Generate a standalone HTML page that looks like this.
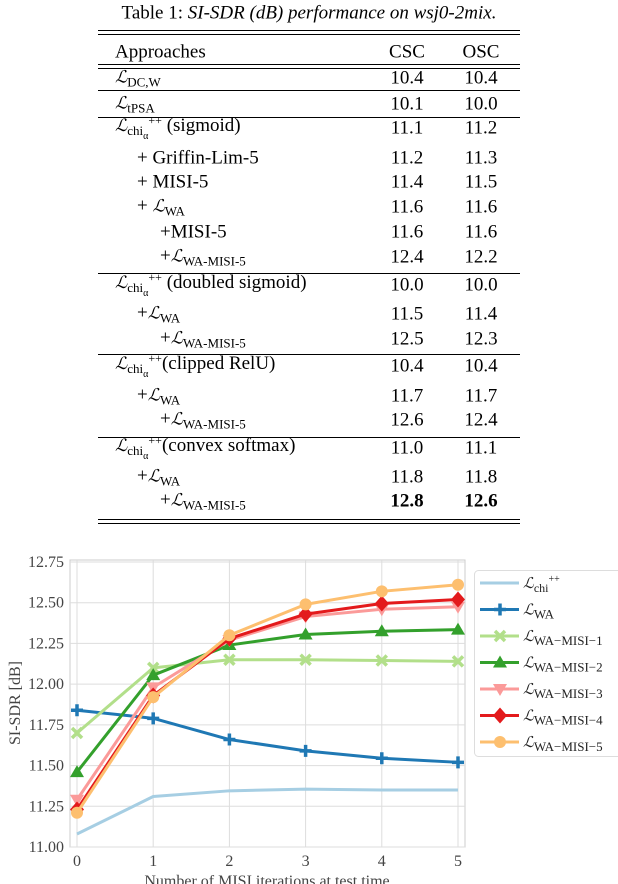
<!DOCTYPE html>
<html><head><meta charset="utf-8"><style>
body{margin:0;width:618px;height:884px;background:#fff;position:relative;overflow:hidden;font-family:"Liberation Serif",serif;color:#000}
.t{position:absolute;font-size:19px;line-height:1;white-space:nowrap;transform:translateY(-50%)}
.n{position:absolute;font-size:19px;line-height:1;white-space:nowrap;transform:translate(-50%,-50%)}
.r{position:absolute;left:98px;width:422px;height:1px;background:#000}
sub{font-size:13px;vertical-align:-4px}
i.L{font-style:italic;font-family:"DejaVu Serif",serif;font-size:17px}
</style></head><body>
<div class="n" style="left:309px;top:13px">Table 1: <i>SI-SDR (dB) performance on wsj0-2mix.</i></div>
<div class="r" style="top:30px"></div>
<div class="r" style="top:34px"></div>
<div class="t" style="left:115px;top:52px">Approaches</div>
<div class="n" style="left:407px;top:52px">CSC</div>
<div class="n" style="left:481px;top:52px">OSC</div>
<div class="r" style="top:64px"></div>
<div class="r" style="top:68px"></div>
<div id="rows"></div>
<div class="r" style="top:519px"></div>
<div class="r" style="top:523px"></div>
<svg id="chart" width="618" height="884" style="position:absolute;left:0;top:0"></svg>
<script>
const tableRows=[
['<i class="L">ℒ</i><sub>DC,W</sub>',115,78,'10.4','10.4'],
['<i class="L">ℒ</i><sub>tPSA</sub>',115,104,'10.1','10.0'],
['<i class="L">ℒ</i><sub>chi<sub style="font-size:10px">α</sub></sub><sup style="font-size:12px">++</sup> (sigmoid)',115,128,'11.1','11.2'],
['+ Griffin-Lim-5',137,158,'11.2','11.3'],
['+ MISI-5',137,182,'11.4','11.5'],
['+ <i class="L">ℒ</i><sub>WA</sub>',137,207,'11.6','11.6'],
['+MISI-5',160,232,'11.6','11.6'],
['+<i class="L">ℒ</i><sub>WA-MISI-5</sub>',160,257,'12.4','12.2'],
['<i class="L">ℒ</i><sub>chi<sub style="font-size:10px">α</sub></sub><sup style="font-size:12px">++</sup> (doubled sigmoid)',115,285,'10.0','10.0'],
['+<i class="L">ℒ</i><sub>WA</sub>',137,314,'11.5','11.4'],
['+<i class="L">ℒ</i><sub>WA-MISI-5</sub>',160,339,'12.5','12.3'],
['<i class="L">ℒ</i><sub>chi<sub style="font-size:10px">α</sub></sub><sup style="font-size:12px">++</sup>(clipped RelU)',115,366,'10.4','10.4'],
['+<i class="L">ℒ</i><sub>WA</sub>',137,396,'11.7','11.7'],
['+<i class="L">ℒ</i><sub>WA-MISI-5</sub>',160,420,'12.6','12.4'],
['<i class="L">ℒ</i><sub>chi<sub style="font-size:10px">α</sub></sub><sup style="font-size:12px">++</sup>(convex softmax)',115,448,'11.0','11.1'],
['+<i class="L">ℒ</i><sub>WA</sub>',137,477,'11.8','11.8'],
['+<i class="L">ℒ</i><sub>WA-MISI-5</sub>',160,501,'<b>12.8</b>','<b>12.6</b>']];
const ruleYs=[90,117,273,354,437];
const rows=document.getElementById('rows');
tableRows.forEach((r,i)=>{
 const a=document.createElement('div');a.className='t';a.style.left=r[1]+'px';a.style.top=r[2]+'px';a.innerHTML=r[0];
 
 
 rows.appendChild(a);
 [[r[3],407,'csc-value'],[r[4],481,'osc-value']].forEach(c=>{
  const d=document.createElement('div');d.className='n';d.style.left=c[1]+'px';d.style.top=r[2]+'px';d.innerHTML=c[0];
  
  
  rows.appendChild(d);});
});
ruleYs.forEach(y=>{const d=document.createElement('div');d.className='r';d.style.top=y+'px';
 
 
 rows.appendChild(d);});

const xCats=[0,1,2,3,4,5];
const yTicks=[11.00,11.25,11.50,11.75,12.00,12.25,12.50,12.75];
const sChi=[11.08,11.31,11.345,11.355,11.35,11.35];
const sWA=[11.84,11.79,11.66,11.59,11.545,11.52];
const sM1=[11.70,12.10,12.15,12.15,12.145,12.14];
const sM2=[11.46,12.055,12.24,12.305,12.325,12.335];
const sM3=[11.29,11.98,12.27,12.415,12.46,12.475];
const sM4=[11.23,11.93,12.28,12.43,12.495,12.52];
const sM5=[11.21,11.92,12.30,12.49,12.57,12.61];
const series=[
 {d:sChi,c:'#a6cee3',m:'none',n:'chi',lab:'chi'},
 {d:sWA,c:'#1f78b4',m:'plus',n:'wa',lab:'WA'},
 {d:sM1,c:'#b2df8a',m:'x',n:'wa-misi-1',lab:'WA−MISI−1'},
 {d:sM2,c:'#33a02c',m:'tri',n:'wa-misi-2',lab:'WA−MISI−2'},
 {d:sM3,c:'#fb9a99',m:'tridown',n:'wa-misi-3',lab:'WA−MISI−3'},
 {d:sM4,c:'#e31a1c',m:'diamond',n:'wa-misi-4',lab:'WA−MISI−4'},
 {d:sM5,c:'#fdbf6f',m:'circle',n:'wa-misi-5',lab:'WA−MISI−5'}];
const L=70,R=465,T=560,B=847;
const xs=v=>77+(v-0)*(458-77)/5;
const ys=v=>847-(v-11)*(847-562)/1.75;
const svg=document.getElementById('chart');const NS='http://www.w3.org/2000/svg';
function el(t,a,p){const e=document.createElementNS(NS,t);for(const k in a)e.setAttribute(k,a[k]);(p||svg).appendChild(e);return e;}
el('rect',{x:L,y:T,width:R-L,height:B-T,fill:'#fff',stroke:'#ccc','stroke-width':1});
yTicks.forEach(v=>{
 const g=el('line',{x1:L,x2:R,y1:ys(v),y2:ys(v),stroke:'#ddd','stroke-width':1});
 
 
 const t=el('text',{x:64,y:ys(v)+5,'text-anchor':'end','font-size':16,fill:'#444','font-family':'Liberation Serif, serif'});t.textContent=v.toFixed(2);
 
 
});
xCats.forEach(v=>{
 const g=el('line',{x1:xs(v),x2:xs(v),y1:T,y2:B,stroke:'#ddd','stroke-width':1});
 
 
 const t=el('text',{x:xs(v),y:866,'text-anchor':'middle','font-size':16,fill:'#444','font-family':'Liberation Serif, serif'});t.textContent=v;
 
 
});
const xl=el('text',{x:267,y:886,'text-anchor':'middle','font-size':16,fill:'#444','font-family':'Liberation Serif, serif'});xl.textContent='Number of MISI iterations at test time';


const yl=el('text',{x:0,y:0,'text-anchor':'middle','font-size':16,fill:'#444','font-family':'Liberation Serif, serif',transform:'translate(20,703) rotate(-90)'});yl.textContent='SI-SDR [dB]';


function marker(m,x,y,c,g){
 if(m==='plus'){el('path',{d:`M${x-6},${y}H${x+6}M${x},${y-6}V${y+6}`,stroke:c,'stroke-width':3.5},g);}
 else if(m==='x'){el('path',{d:`M${x-5},${y-5}L${x+5},${y+5}M${x-5},${y+5}L${x+5},${y-5}`,stroke:c,'stroke-width':3.5},g);}
 else if(m==='tri'){el('path',{d:`M${x},${y-7}L${x+7},${y+5}L${x-7},${y+5}Z`,fill:c},g);}
 else if(m==='tridown'){el('path',{d:`M${x},${y+7}L${x+7},${y-5}L${x-7},${y-5}Z`,fill:c},g);}
 else if(m==='diamond'){el('path',{d:`M${x},${y-8}L${x+7},${y}L${x},${y+8}L${x-7},${y}Z`,fill:c},g);}
 else if(m==='circle'){el('circle',{cx:x,cy:y,r:6,fill:c},g);}
}
series.forEach(s=>{
 const g=el('g',{});
 
 
 el('polyline',{points:s.d.map((v,i)=>xs(xCats[i])+','+ys(v)).join(' '),fill:'none',stroke:s.c,'stroke-width':3,'stroke-linejoin':'round'},g);
 s.d.forEach((v,i)=>marker(s.m,xs(xCats[i]),ys(v),s.c,g));
});
const lg=el('g',{});


el('rect',{x:474.5,y:570.5,width:160,height:186,rx:4,fill:'#fff',stroke:'#ddd'},lg);
series.forEach((s,i)=>{
 const y=583+i*26.5;
 const g=el('g',{},lg);
 
 
 el('line',{x1:480,x2:519,y1:y,y2:y,stroke:s.c,'stroke-width':3},g);
 marker(s.m,500,y,s.c,g);
 const t=el('text',{x:523,y:y+5,'font-size':16,fill:'#222','font-family':'Liberation Serif, serif'},g);
 const a=el('tspan',{'font-style':'italic','font-family':'DejaVu Serif, serif','font-size':15},t);a.textContent='ℒ';
 if(s.lab==='chi'){
  const b=el('tspan',{dy:4,'font-size':12},t);b.textContent='chi';
  const c=el('tspan',{dy:-10,'font-size':10},t);c.textContent='++';
 } else {
  const b=el('tspan',{dy:4,'font-size':13},t);b.textContent=s.lab;
 }
});
</script>
</body></html>
